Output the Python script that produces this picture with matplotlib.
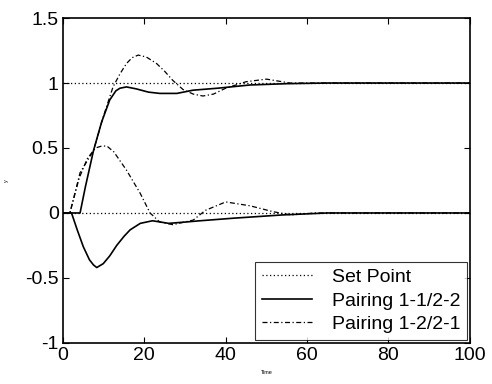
import matplotlib
matplotlib.use("Agg")
import matplotlib.pyplot as plt
import numpy as np

plt.rcParams["font.family"] = ["Liberation Sans", "DejaVu Sans"]

# set point levels
sp_t = [0, 100]
sp_hi = [1, 1]
sp_lo = [0, 0]

# Pairing 1-1/2-2 (solid), output tracking step and coupled output
p11_t = [0, 4.2, 5.5, 7.5, 9.5, 11.5, 13, 14, 15.6, 18, 21, 23.8, 28, 32, 38, 46, 55, 65, 100]
p11_a = [0, 0, 0.2, 0.48, 0.7, 0.87, 0.94, 0.96, 0.97, 0.955, 0.93, 0.92, 0.92, 0.945, 0.96, 0.985, 0.995, 1.0, 1.0]
p11_bt = [0, 2.1, 3.5, 5, 6.5, 7.5, 8.3, 9.9, 11.5, 13.2, 15, 16.5, 19, 22, 26, 30, 33.7, 42, 54, 65, 100]
p11_b = [0, 0, -0.13, -0.26, -0.36, -0.4, -0.42, -0.39, -0.33, -0.25, -0.18, -0.13, -0.08, -0.06, -0.08, -0.07, -0.06, -0.04, -0.015, 0, 0]

# Pairing 1-2/2-1 (dash-dot)
p12_t = [0, 1.7, 4.2, 7.5, 9.9, 12.3, 14, 15.6, 17, 18.5, 20.5, 23, 25, 27, 29.5, 32, 34.4, 37, 40, 45, 50, 55.8, 62, 100]
p12_a = [0, 0, 0.31, 0.48, 0.74, 0.97, 1.07, 1.15, 1.195, 1.215, 1.2, 1.15, 1.09, 1.02, 0.95, 0.915, 0.9, 0.915, 0.96, 1.01, 1.03, 1.0, 1.0, 1.0]
p12_bt = [0, 1.7, 4, 6, 8, 9.5, 10.8, 12.5, 15.6, 19, 21.4, 23.8, 27, 32, 35, 40, 46, 51.6, 56, 62, 100]
p12_b = [0, 0, 0.27, 0.42, 0.5, 0.515, 0.515, 0.47, 0.33, 0.15, 0.0, -0.07, -0.09, -0.055, 0.02, 0.085, 0.055, 0.01, -0.015, 0, 0]

fig = plt.figure(figsize=(4.92, 3.84), dpi=100)
ax = fig.add_axes([0.128, 0.107, 0.827, 0.846])

dots = (0, (1, 2))
dashdot = (0, (4, 2, 1, 2))
ax.plot(sp_t, sp_hi, color="k", lw=0.9, ls=dots, label="Set Point")
ax.plot(sp_t, sp_lo, color="k", lw=0.9, ls=dots)
ax.plot(p11_t, p11_a, color="k", lw=1.2, label="Pairing 1-1/2-2")
ax.plot(p11_bt, p11_b, color="k", lw=1.2)
ax.plot(p12_t, p12_a, color="k", lw=0.9, ls=dashdot, label="Pairing 1-2/2-1")
ax.plot(p12_bt, p12_b, color="k", lw=0.9, ls=dashdot)

ax.set_xlim(0, 100)
ax.set_ylim(-1, 1.5)
ax.set_xticks(np.arange(0, 101, 20))
ax.set_yticks([-1, -0.5, 0, 0.5, 1, 1.5])
ax.set_yticklabels(["-1", "-0.5", "0", "0.5", "1", "1.5"])
ax.tick_params(direction="in", top=True, right=True, labelsize=14, length=4, width=0.8, pad=3)
for s in ax.spines.values():
    s.set_linewidth(1.2)

ax.set_xlabel("Time", fontsize=4, labelpad=4)
ax.set_ylabel("y", fontsize=4, labelpad=12)

leg = ax.legend(loc="lower right", fontsize=14, frameon=True, fancybox=False,
                edgecolor="k", borderaxespad=0.15, handlelength=2.6, labelspacing=0.3,
                borderpad=0.35, handletextpad=1.0)
leg.get_frame().set_linewidth(0.8)

fig.savefig("out.png", dpi=100)
